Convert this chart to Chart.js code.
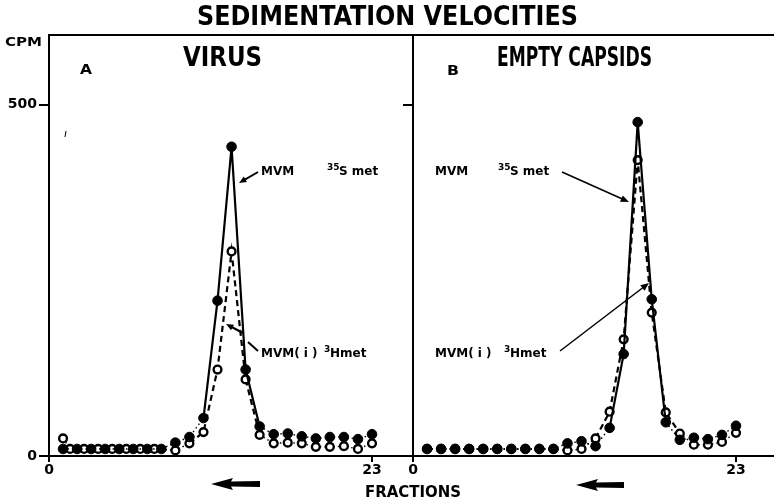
<!DOCTYPE html>
<html>
<head>
<meta charset="utf-8">
<script src="https://cdn.jsdelivr.net/npm/chart.js@4.4.1/dist/chart.umd.min.js"></script>
<style>
  html, body { margin: 0; padding: 0; background: #fff; }
  #wrap { position: relative; width: 774px; height: 501px; }
  #wrap canvas { position: absolute; left: 0; top: 0; }
</style>
</head>
<body>
<div id="wrap">
  <canvas id="chartA" width="774" height="501"></canvas>
  <canvas id="chartB" width="774" height="501"></canvas>
</div>
<script>
// Dados (CPM por fração)
const fractions = [1,2,3,4,5,6,7,8,9,10,11,12,13,14,15,16,17,18,19,20,21,22,23];
const virusS35 = [10,10,10,10,10,10,10,10,19,27,54,221,440,123,42,31,32,28,25,27,27,24,31];
const virusH3Fractions = [1,1.5,2.5,3.5,4.5,5.5,6.5,7.5,9,10,11,12,13,14,15,16,17,18,19,20,21,22,23];
const virusH3 = [25,10,10,10,10,10,10,10,8,18,34,123,291,109,30,18,19,18,13,13,14,10,18];
const capsidS35 = [10,10,10,10,10,10,10,10,10,10,18,21,14,40,145,475,223,48,23,26,24,30,43];
const capsidH3 = [10,10,10,10,10,10,10,10,10,10,8,10,25,63,166,421,204,62,32,16,16,20,33];
const xTicks = [0, 23];
const yTicks = [0, 500];

const BOLD = '"DejaVu Sans", sans-serif';
const COND = '"DejaVu Sans Condensed", "Liberation Sans Narrow", sans-serif';

// texto ajustado a uma largura
function fitText(ctx, text, x, baseline, width, size, family) {
    ctx.font = `bold ${size}px ${family}`;
    const w = ctx.measureText(text).width;
    ctx.save();
    ctx.translate(x, baseline);
    ctx.scale(width / w, 1);
    ctx.fillText(text, 0, 0);
    ctx.restore();
}

function arrow(ctx, x1, y1, x2, y2, head) {
    const a = Math.atan2(y2 - y1, x2 - x1);
    ctx.beginPath();
    ctx.moveTo(x1, y1);
    ctx.lineTo(x2 - Math.cos(a) * head * 0.6, y2 - Math.sin(a) * head * 0.6);
    ctx.stroke();
    ctx.beginPath();
    ctx.moveTo(x2, y2);
    ctx.lineTo(x2 - head * Math.cos(a - 0.4), y2 - head * Math.sin(a - 0.4));
    ctx.lineTo(x2 - head * Math.cos(a + 0.4), y2 - head * Math.sin(a + 0.4));
    ctx.closePath();
    ctx.fill();
}

function bigArrow(ctx, tip, tail, y) {
    ctx.beginPath();
    ctx.moveTo(tip, y);
    ctx.lineTo(tip + 22, y - 6);
    ctx.lineTo(tip + 20, y - 2.5);
    ctx.lineTo(tail, y - 3);
    ctx.lineTo(tail, y + 3);
    ctx.lineTo(tip + 20, y + 2.5);
    ctx.lineTo(tip + 22, y + 6);
    ctx.closePath();
    ctx.fill();
}

function isotopeLabel(ctx, x, y, prefix, sup, rest, supX, restX) {
    ctx.font = `bold 12px ${BOLD}`;
    ctx.fillText(prefix, x, y);
    ctx.font = `bold 9px ${BOLD}`;
    ctx.fillText(sup, supX, y - 5);
    ctx.font = `bold 12px ${BOLD}`;
    ctx.fillText(rest, restX, y);
}

const pxPerFraction = (372 - 49) / 23;

function buildChart(canvasId, cfg) {
    const inPeak = (range) => (c) =>
        c.p0.parsed.x >= range[0] && c.p1.parsed.x <= range[1];

    const frame = {
        id: 'frame',
        afterDraw(chart) {
            const ctx = chart.ctx;
            const area = chart.chartArea;
            ctx.save();
            ctx.strokeStyle = '#000';
            ctx.fillStyle = '#000';
            ctx.lineWidth = 2;
            ctx.beginPath();
            ctx.moveTo(area.left - 1, area.top);
            ctx.lineTo(area.right, area.top);
            ctx.stroke();
            ctx.textBaseline = 'alphabetic';
            cfg.decorate(ctx, chart);
            ctx.restore();
        }
    };

    // o eixo y de A ocupa a margem esquerda; o eixo x ocupa a margem de baixo
    const yWidth = cfg.showY ? cfg.left : 0;
    const noPad = s => { s.paddingLeft = 0; s.paddingRight = 0; s.paddingTop = 0; s.paddingBottom = 0; };

    return new Chart(document.getElementById(canvasId), {
        type: 'line',
        data: {
            datasets: [{
                data: cfg.filledX.map((x, i) => ({ x: x, y: cfg.filled[i] })),
                borderColor: '#000',
                borderWidth: 2,
                pointRadius: 4.8,
                pointBackgroundColor: '#000',
                pointBorderColor: '#000',
                pointBorderWidth: 1,
                tension: 0,
                segment: {
                    borderDash: c => inPeak(cfg.peakFilled)(c) ? [] : [1.5, 3],
                    borderWidth: c => inPeak(cfg.peakFilled)(c) ? 2.2 : 1.4
                }
            }, {
                data: cfg.openX.map((x, i) => ({ x: x, y: cfg.open[i] })),
                borderColor: '#000',
                borderWidth: 2,
                pointRadius: 3.9,
                pointBackgroundColor: '#fff',
                pointBorderColor: '#000',
                pointBorderWidth: 2.4,
                tension: 0,
                segment: {
                    borderDash: c => inPeak(cfg.peakOpen)(c) ? [6, 4] : [1.5, 3],
                    borderWidth: c => inPeak(cfg.peakOpen)(c) ? 2.2 : 1.4
                }
            }]
        },
        options: {
            responsive: false,
            animation: false,
            devicePixelRatio: 1,
            layout: {
                autoPadding: false,
                padding: { left: cfg.left - yWidth, right: 774 - cfg.right, top: 35, bottom: 0 }
            },
            plugins: { legend: { display: false }, tooltip: { enabled: false } },
            scales: {
                x: {
                    type: 'linear',
                    min: 0,
                    max: (cfg.right - cfg.left) / pxPerFraction,
                    afterFit: s => { s.height = 501 - 456; noPad(s); },
                    afterBuildTicks: s => { s.ticks = xTicks.map(v => ({ value: v })); },
                    grid: { drawOnChartArea: false, color: '#000', lineWidth: 2, tickLength: 6 },
                    border: { color: '#000', width: 2 },
                    ticks: { color: '#000', padding: 0, maxRotation: 0, font: { family: BOLD, weight: 'bold', size: 14 } }
                },
                y: {
                    min: 0,
                    max: 599,
                    afterFit: s => { s.width = yWidth; noPad(s); },
                    afterBuildTicks: s => {
                        s.ticks = (cfg.showY ? yTicks : [500]).map(v => ({ value: v }));
                    },
                    grid: { drawOnChartArea: false, color: '#000', lineWidth: 2, tickLength: 10 },
                    border: { color: '#000', width: 2 },
                    ticks: {
                        color: '#000', padding: 2,
                        font: { family: BOLD, weight: 'bold', size: 14 },
                        callback: v => cfg.showY ? String(v) : ''
                    }
                }
            }
        },
        plugins: [frame]
    });
}

buildChart('chartA', {
    left: 49, right: 413, showY: true,
    filledX: fractions, filled: virusS35,
    openX: virusH3Fractions, open: virusH3,
    peakFilled: [11, 15], peakOpen: [10, 15],
    decorate(ctx) {
        fitText(ctx, 'SEDIMENTATION VELOCITIES', 197, 25, 381, 26, COND);
        fitText(ctx, 'CPM', 5, 46, 37, 12, BOLD);
        fitText(ctx, 'VIRUS', 183, 66, 79, 26, COND);
        fitText(ctx, 'A', 80, 74, 12, 14, BOLD);
        fitText(ctx, 'FRACTIONS', 365, 497, 96, 15, BOLD);
        isotopeLabel(ctx, 261, 175, 'MVM', '35', 'S met', 327, 339);
        isotopeLabel(ctx, 261, 357, 'MVM( i )', '3', 'Hmet', 324, 330);
        ctx.lineWidth = 2;
        arrow(ctx, 258, 172, 239, 183, 8);
        ctx.beginPath();
        ctx.moveTo(258, 351);
        ctx.lineTo(248, 342);
        ctx.stroke();
        arrow(ctx, 243, 333, 226, 324, 8);
        ctx.lineWidth = 1;
        ctx.beginPath();
        ctx.moveTo(65, 137);
        ctx.lineTo(66, 131);
        ctx.stroke();
        bigArrow(ctx, 211, 260, 484);
    }
});

buildChart('chartB', {
    left: 413, right: 774, showY: false,
    filledX: fractions, filled: capsidS35,
    openX: fractions, open: capsidH3,
    peakFilled: [14, 18], peakOpen: [13, 19],
    decorate(ctx) {
        fitText(ctx, 'EMPTY CAPSIDS', 497, 66, 155, 26, COND);
        fitText(ctx, 'B', 447, 75, 12, 14, BOLD);
        isotopeLabel(ctx, 435, 175, 'MVM', '35', 'S met', 498, 510);
        isotopeLabel(ctx, 435, 357, 'MVM( i )', '3', 'Hmet', 504, 510);
        ctx.lineWidth = 1.5;
        arrow(ctx, 562, 172, 629, 202, 9);
        arrow(ctx, 560, 351, 649, 283, 9);
        bigArrow(ctx, 576, 624, 485);
    }
});
</script>
</body>
</html>
